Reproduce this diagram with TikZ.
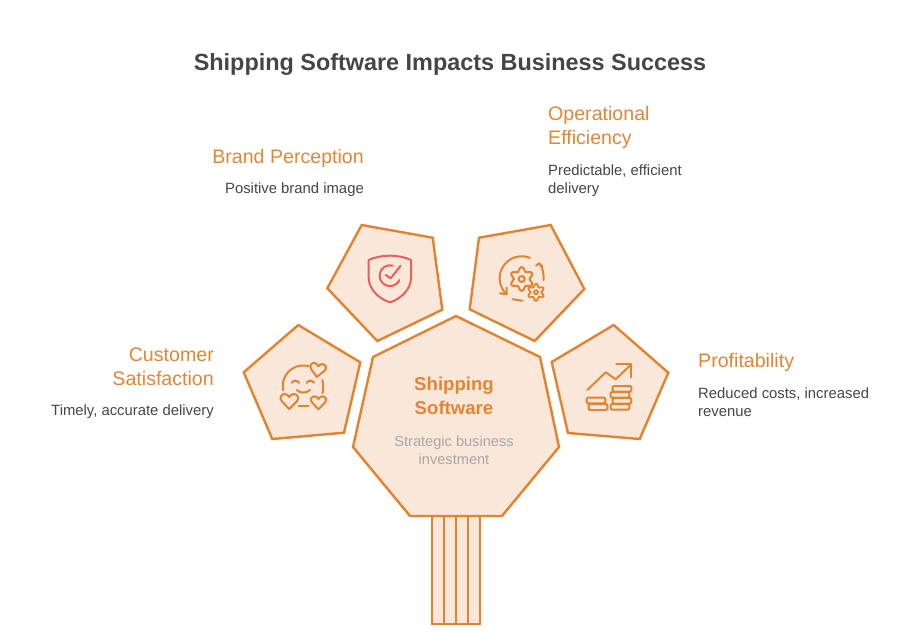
\documentclass[tikz,border=0pt]{standalone}
\usepackage{fontspec}
\setmainfont{Liberation Sans}
\definecolor{orng}{HTML}{E2832F}
\definecolor{peach}{HTML}{F9E7DA}
\definecolor{redi}{HTML}{E9605A}
\definecolor{dark}{HTML}{454545}
\definecolor{mute}{HTML}{A9A6A3}
\definecolor{headc}{HTML}{E38533}
\newcommand{\heartat}[4]{%
  \draw[iconline,shift={(#1,#2)},rotate=#4,scale=#3]
    (0,5.2) -- (-5.2,-0.2) .. controls (-7.6,-2.8) and (-5.6,-5.6) .. (-3.4,-5.6)
    .. controls (-2,-5.6) and (-0.8,-4.8) .. (0,-3.4)
    .. controls (0.8,-4.8) and (2,-5.6) .. (3.4,-5.6)
    .. controls (5.6,-5.6) and (7.6,-2.8) .. (5.2,-0.2) -- cycle;}
\tikzset{
  shapebox/.style={draw=orng,fill=peach,line width=2.4pt,line join=miter},
  iconline/.style={draw=orng,line width=2pt,line cap=round,line join=round},
  redline/.style={draw=redi,line width=2pt,line cap=round,line join=round},
  coin/.style={iconline,rounded corners=1.2pt},
  titletext/.style={inner sep=0pt,text=dark,font=\fontsize{23.4}{30}\selectfont\bfseries},
  headtext/.style={inner sep=0pt,text=headc,font=\fontsize{19.6}{24}\selectfont},
  desctext/.style={inner sep=0pt,text=dark,font=\fontsize{14.85}{18}\selectfont},
  centerhead/.style={inner sep=0pt,text=headc,align=center,font=\fontsize{18.6}{24}\selectfont\bfseries},
  centerdesc/.style={inner sep=0pt,text=mute,align=center,font=\fontsize{14.6}{18}\selectfont},
}
\begin{document}
\begin{tikzpicture}[x=1pt,y=-1pt]
\useasboundingbox (0,0) rectangle (900,640);
% pillars
\foreach \a/\b in {432/444,444/456,456/468,468/480}
  \draw[shapebox] (\a,516) rectangle (\b,624);
% heptagon
\draw[shapebox] (456,316) -- (540,357) -- (559,447) -- (502,516) -- (410,516) -- (353,447) -- (373,357) -- cycle;
% pentagons
\draw[shapebox] (361.7,225) -- (432.7,237.7) -- (442.3,309.7) -- (377.3,341) -- (327.3,288.3) -- cycle;
\draw[shapebox] (479,237.7) -- (550.7,225) -- (584.3,289) -- (534.7,341) -- (469.7,309.3) -- cycle;
\draw[shapebox] (298.3,325) -- (360.3,362.3) -- (344,432.7) -- (272.3,439) -- (243.7,372.3) -- cycle;
\draw[shapebox] (613.7,325) -- (668.3,372.7) -- (639.7,439) -- (568,433) -- (551.7,362) -- cycle;
% shield icon
\draw[redline] (390,255.7) .. controls (382,255.7) and (374,257.5) .. (368.7,260) -- (368.7,278)
  .. controls (368.7,289) and (379,299) .. (390,302.3)
  .. controls (401,299) and (411,289) .. (411,278) -- (411,260)
  .. controls (406,257.5) and (398,255.7) .. (390,255.7) -- cycle;
\draw[redline] plot[smooth,samples=30,domain=75:335] ({390+10.3*cos(\x)},{275.7-10.3*sin(\x)});
\draw[redline] (385.7,275) -- (390.7,278.3) -- (400.7,265.7);
% gears icon
\draw[iconline] plot[smooth,samples=30,domain=68:227] ({521.7+22*cos(\x)},{278.3-22*sin(\x)});
\draw[iconline] (500,293.3) -- (506.7,294.3) -- (506.7,287.7);
\draw[iconline] (543.5,280) .. controls (544,272) and (542,266) .. (539,263.3);
\draw[iconline] (536,265.7) -- (539,263.3) -- (542.3,266.7);
\draw[iconline] (512.5,299.2) -- (522.5,300.8);
\draw[iconline,shift={(521.7,279)}] plot[smooth cycle,samples=36,domain=0:350] ({(9.9+2.1*cos(6*\x))*cos(\x+30)},{(9.9+2.1*cos(6*\x))*sin(\x+30)});
\draw[iconline,shift={(521.7,279)}] (0,0) circle[radius=3];
\draw[iconline,shift={(536,292.3)},line width=1.8pt] plot[smooth cycle,samples=36,domain=0:350] ({(7+1.6*cos(6*\x))*cos(\x+30)},{(7+1.6*cos(6*\x))*sin(\x+30)});
\draw[iconline,shift={(536,292.3)},line width=1.8pt] (0,0) circle[radius=2];
% smile icon
\draw[iconline] plot[smooth,samples=30,domain=75:192] ({303.3+20.5*cos(\x)},{386-20.5*sin(\x)});
\draw[iconline] (322.4,380) .. controls (323.5,384) and (323.5,389) .. (322.4,393);
\draw[iconline] (298.5,405.7) -- (308.5,405.7);
\draw[iconline] (291.5,382.8) .. controls (294,380) and (297,380) .. (299.2,382.8);
\draw[iconline] (306.5,382.8) .. controls (309,380) and (312,380) .. (314,382.8);
\draw[iconline] (296.8,390) .. controls (300,393.5) and (306,393.5) .. (310,390);
\heartat{317.7}{370.5}{1.25}{-8}
\heartat{289.3}{401.8}{1.4}{0}
\heartat{318.5}{403}{1.2}{0}
% chart icon
\draw[iconline] (587.3,390) -- (605.7,372.3) -- (615.7,379.3) -- (631.3,364.3);
\draw[iconline] (616.3,363.7) -- (631.3,363.7) -- (631.3,377.3);
\draw[coin] (586.7,397.7) rectangle (605.3,403.3);
\draw[coin] (588.7,404) rectangle (607.3,410);
\draw[coin] (612.7,386) rectangle (631.3,391.7);
\draw[coin] (610.7,392) rectangle (629.3,397.7);
\draw[coin] (612.7,398) rectangle (631.3,403.7);
\draw[coin] (610.7,404) rectangle (629.3,409.7);
% texts
\node[titletext] (title) at (450,64) {Shipping Software Impacts Business Success};
\node[headtext,anchor=east] (bp) at (364,158) {Brand Perception};
\node[desctext,anchor=east] (bpd) at (364,189.5) {Positive brand image};
\node[headtext,anchor=north west,align=left] (oe) at (548,106.5) {Operational\\Efficiency};
\node[desctext,anchor=north west,align=left] (oed) at (548,165) {Predictable, efficient\\delivery};
\node[headtext,anchor=north east,align=right] (cs) at (214,348) {Customer\\Satisfaction};
\node[desctext,anchor=east] (csd) at (214,411.5) {Timely, accurate delivery};
\node[headtext,anchor=west] (pr) at (698,362) {Profitability};
\node[desctext,anchor=north west,align=left] (prd) at (698,387.5) {Reduced costs, increased\\revenue};
\node[centerhead,anchor=north] (ctr) at (454,377) {Shipping\\Software};
\node[centerdesc,anchor=north] (ctrd) at (454,436) {Strategic business\\investment};
\end{tikzpicture}
\end{document}
